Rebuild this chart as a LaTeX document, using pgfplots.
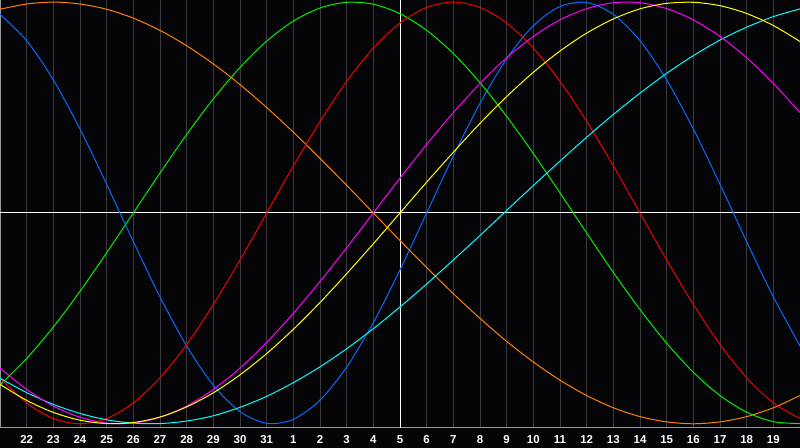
\documentclass[border=0pt]{standalone}
\usepackage{fontspec}
\setmainfont{Liberation Sans}
\usepackage{pgfplots}
\usepackage{pgfplotstable}
\pgfplotsset{compat=1.18}

\definecolor{bg}{RGB}{5,5,8}
\definecolor{gridc}{RGB}{58,58,62}
\definecolor{framec}{RGB}{150,150,150}
\definecolor{cblue}{RGB}{10,105,255}
\definecolor{cred}{RGB}{240,0,0}
\definecolor{cgreen}{RGB}{0,240,0}
\definecolor{corange}{RGB}{255,128,0}
\definecolor{cmagenta}{RGB}{255,0,255}
\definecolor{cyellow}{RGB}{255,255,0}
\definecolor{ccyan}{RGB}{0,255,255}

% day index 0 = the 21st (left edge), 15 = the 5th (centre line)
\pgfplotstableread{
t   blue    red     green   orange  magenta yellow  cyan
0   0.942  -0.782  -0.815   0.966  -0.736  -0.813  -0.784
1   0.817  -0.901  -0.690   0.991  -0.837  -0.889  -0.852
2   0.631  -0.975  -0.541   1.000  -0.916  -0.946  -0.908
3   0.398  -1.000  -0.372   0.991  -0.969  -0.983  -0.951
4   0.136  -0.975  -0.189   0.966  -0.997  -0.999  -0.981
5  -0.136  -0.901   0.000   0.924  -0.997  -0.994  -0.997
6  -0.398  -0.782   0.189   0.866  -0.969  -0.968  -0.999
7  -0.631  -0.624   0.372   0.793  -0.916  -0.920  -0.987
8  -0.817  -0.434   0.541   0.707  -0.837  -0.853  -0.962
9  -0.942  -0.223   0.690   0.609  -0.736  -0.768  -0.922
10 -0.998   0.000   0.815   0.500  -0.614  -0.667  -0.870
11 -0.979   0.223   0.910   0.383  -0.476  -0.552  -0.805
12 -0.888   0.434   0.972   0.259  -0.325  -0.425  -0.730
13 -0.731   0.624   0.999   0.131  -0.165  -0.288  -0.644
14 -0.520   0.782   0.990   0.000   0.000  -0.146  -0.549
15 -0.270   0.901   0.945  -0.131   0.165   0.000  -0.446
16  0.000   0.975   0.866  -0.259   0.325   0.146  -0.337
17  0.270   1.000   0.756  -0.383   0.476   0.288  -0.223
18  0.520   0.975   0.618  -0.500   0.614   0.425  -0.107
19  0.731   0.901   0.458  -0.609   0.736   0.552   0.012
20  0.888   0.782   0.282  -0.707   0.837   0.667   0.130
21  0.979   0.624   0.095  -0.793   0.916   0.768   0.246
22  0.998   0.434  -0.095  -0.866   0.969   0.853   0.359
23  0.942   0.223  -0.282  -0.924   0.997   0.920   0.467
24  0.817   0.000  -0.458  -0.966   0.997   0.968   0.568
25  0.631  -0.223  -0.618  -0.991   0.969   0.994   0.662
26  0.398  -0.434  -0.756  -1.000   0.916   0.999   0.746
27  0.136  -0.624  -0.866  -0.991   0.837   0.983   0.820
28 -0.136  -0.782  -0.945  -0.966   0.736   0.946   0.881
29 -0.398  -0.901  -0.990  -0.924   0.614   0.889   0.931
30 -0.631  -0.975  -0.999  -0.866   0.476   0.813   0.968
}\biodata

\begin{document}
\begin{tikzpicture}[x=1pt,y=1pt]
% axis box: y from -161.29pt (ymin) to 159.71pt (ymax), day labels below
\fill[bg] (0,-176.29) rectangle (600,159.71);
\begin{axis}[
  at={(0,0)}, anchor=origin,
  scale only axis, width=600pt, height=321pt,
  xmin=0, xmax=30, ymin=-1.02, ymax=1.01,
  axis line style={framec, line width=0.75pt},
  xtick={1,...,29},
  xticklabels={22,23,24,25,26,27,28,29,30,31,1,2,3,4,5,6,7,8,9,10,11,12,13,14,15,16,17,18,19},
  ytick=\empty,
  major tick length=0pt,
  xmajorgrids,
  major grid style={gridc, line width=0.75pt},
  extra x ticks={15}, extra x tick labels={},
  extra x tick style={grid=major, major grid style={white, line width=0.75pt}},
  extra y ticks={0}, extra y tick labels={},
  extra y tick style={grid=major, major grid style={white, line width=0.75pt}},
  xticklabel style={font=\fontsize{8.6}{10}\selectfont\bfseries, text=white, anchor=base, yshift=-11.5pt},
  every axis plot/.append style={line width=0.75pt, smooth},
]
\addplot[cblue]    table[x=t, y=blue]    {\biodata};
\addplot[corange]  table[x=t, y=orange]  {\biodata};
\addplot[cgreen]   table[x=t, y=green]   {\biodata};
\addplot[cred]     table[x=t, y=red]     {\biodata};
\addplot[ccyan]    table[x=t, y=cyan]    {\biodata};
\addplot[cmagenta] table[x=t, y=magenta] {\biodata};
\addplot[cyellow]  table[x=t, y=yellow]  {\biodata};
\end{axis}
\pgfresetboundingbox
\useasboundingbox (0,-176.29) rectangle (600,159.71);
\end{tikzpicture}
\end{document}
